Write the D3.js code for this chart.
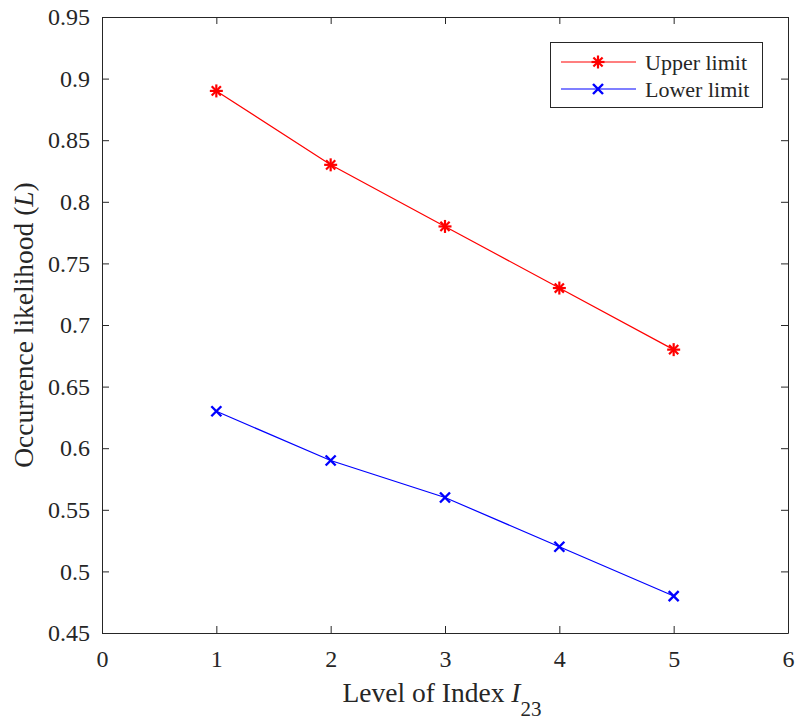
<!DOCTYPE html>
<html><head><meta charset="utf-8">
<script src="https://cdn.jsdelivr.net/npm/d3@7"></script>
<style>body{margin:0;background:#fff}svg{display:block}text{font-family:"Liberation Serif","Times New Roman",serif;fill:#262626}</style>
</head><body><svg id="c" width="798" height="722"></svg>
<script>
const levels = [1, 2, 3, 4, 5];
const upperLimit = [0.89, 0.83, 0.78, 0.73, 0.68];
const lowerLimit = [0.63, 0.59, 0.56, 0.52, 0.48];
const xTicks = [0, 1, 2, 3, 4, 5, 6];
const yTicks = [0.45, 0.5, 0.55, 0.6, 0.65, 0.7, 0.75, 0.8, 0.85, 0.9, 0.95];
const seriesNames = ["Upper limit", "Lower limit"];

const svg = d3.select("#c");
const L = 102, R = 788, T = 17, B = 633;
const x = d3.scaleLinear().domain([0, 6]).range([L, R]);
const y = d3.scaleLinear().domain([0.45, 0.95]).range([B, T]);
const ax = "#262626";
const tl = 7;

// axes with inward ticks
const gx = svg.append("g").attr("transform", `translate(0,${B})`)
  .call(d3.axisBottom(x).tickValues(xTicks).tickFormat(d3.format("d")).tickSizeInner(-tl).tickSizeOuter(0).tickPadding(20));
const gy = svg.append("g").attr("transform", `translate(${L},0)`)
  .call(d3.axisLeft(y).tickValues(yTicks).tickFormat(d => d3.format("")(+d.toFixed(2))).tickSizeInner(-tl).tickSizeOuter(0).tickPadding(12));
const gxt = svg.append("g").attr("transform", `translate(0,${T})`)
  .call(d3.axisTop(x).tickValues(xTicks).tickFormat("").tickSizeInner(-tl).tickSizeOuter(0));
const gyr = svg.append("g").attr("transform", `translate(${R},0)`)
  .call(d3.axisRight(y).tickValues(yTicks).tickFormat("").tickSizeInner(-tl).tickSizeOuter(0));
[gx, gy, gxt, gyr].forEach(g => {
  g.attr("font-family", '"Liberation Serif",serif');
  g.select(".domain").attr("stroke", ax).attr("stroke-width", 1);
  g.selectAll(".tick line").attr("stroke", ax).attr("stroke-width", 1);
  g.selectAll(".tick text").attr("font-size", 24).attr("fill", ax).style("font-family", '"Liberation Serif",serif');
});
gx.selectAll(".tick text").attr("dy", "0.6em");

// lines
const line = d3.line().x((d, i) => x(levels[i])).y(d => y(d));
svg.append("path").datum(upperLimit).attr("d", line).attr("fill", "none").attr("stroke", "#ff0000").attr("stroke-width", 1.2);
svg.append("path").datum(lowerLimit).attr("d", line).attr("fill", "none").attr("stroke", "#0000ff").attr("stroke-width", 1.2);

function star(g, cx, cy, r, color) {
  const a = [0, 45, 90, 135];
  a.forEach(t => {
    const rad = t * Math.PI / 180;
    g.append("line").attr("x1", cx - r * Math.cos(rad)).attr("y1", cy - r * Math.sin(rad))
      .attr("x2", cx + r * Math.cos(rad)).attr("y2", cy + r * Math.sin(rad))
      .attr("stroke", color).attr("stroke-width", 2.2);
  });
}
function cross(g, cx, cy, r, color) {
  g.append("line").attr("x1", cx - r).attr("y1", cy - r).attr("x2", cx + r).attr("y2", cy + r).attr("stroke", color).attr("stroke-width", 2.4);
  g.append("line").attr("x1", cx - r).attr("y1", cy + r).attr("x2", cx + r).attr("y2", cy - r).attr("stroke", color).attr("stroke-width", 2.4);
}
const mg = svg.append("g");
upperLimit.forEach((v, i) => star(mg, x(levels[i]), y(v), 6.5, "#ff0000"));
lowerLimit.forEach((v, i) => cross(mg, x(levels[i]), y(v), 5, "#0000ff"));

// legend
const lg = svg.append("g");
lg.append("rect").attr("x", 550.5).attr("y", 42.5).attr("width", 212).attr("height", 65).attr("fill", "#fff").attr("stroke", ax).attr("stroke-width", 1);
const rows = [{n: seriesNames[0], c: "#ff0000", m: star, yy: 62}, {n: seriesNames[1], c: "#0000ff", m: cross, yy: 89}];
rows.forEach(r => {
  lg.append("line").attr("x1", 561).attr("x2", 636).attr("y1", r.yy).attr("y2", r.yy).attr("stroke", r.c).attr("stroke-width", 1.2);
  r.m(lg, 598, r.yy, r.m === star ? 6.5 : 5, r.c);
  lg.append("text").attr("x", 645).attr("y", r.yy + 7.5).attr("font-size", 22).attr("fill", "#000").text(r.n);
});

// axis labels
const xl = svg.append("text").attr("x", 442).attr("y", 702).attr("text-anchor", "middle").attr("font-size", 27.5);
xl.append("tspan").text("Level of Index ");
xl.append("tspan").attr("font-style", "italic").text("I");
xl.append("tspan").attr("font-size", 21).attr("dy", 14).text("23");

const yl = svg.append("text").attr("transform", `translate(33,${(T + B) / 2}) rotate(-90)`).attr("text-anchor", "middle").attr("font-size", 27.5);
yl.append("tspan").text("Occurrence likelihood (");
yl.append("tspan").attr("font-style", "italic").text("L");
yl.append("tspan").text(")");
</script></body></html>
